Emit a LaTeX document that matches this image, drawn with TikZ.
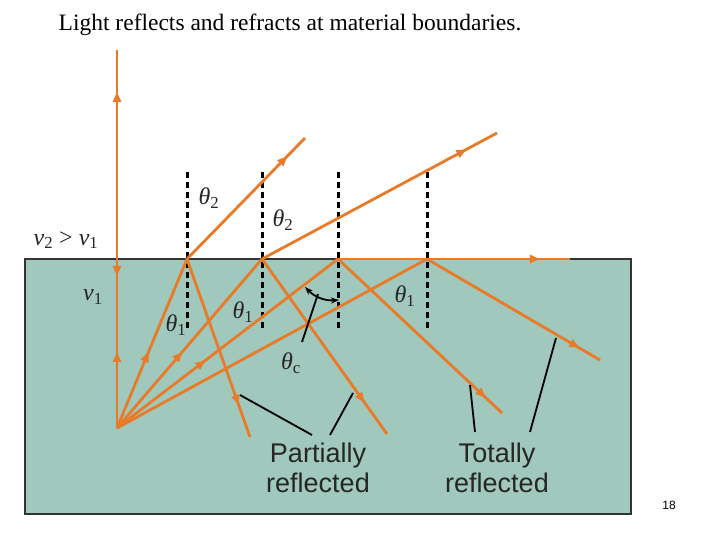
\documentclass[tikz,border=0pt]{standalone}
\usepackage{fontspec}
\setmainfont{Liberation Serif}
\newfontfamily\sff{Liberation Sans}
\usetikzlibrary{decorations.markings,arrows.meta}
\definecolor{ray}{RGB}{232,122,40}
\definecolor{water}{RGB}{160,200,188}
\newcommand{\sbx}[1]{\textsubscript{\upshape #1}}
\begin{document}
\begin{tikzpicture}[x=1pt,y=-1pt,
 r/.style={ray,line width=2.8pt},
 ra/.style={r,postaction={decorate},decoration={markings,mark=at position #1 with {\arrow{Triangle[length=10pt,width=8pt]}}}},
 nrm/.style={black,line width=3pt,dash pattern=on 6pt off 4pt},
 lbl/.style={inner sep=0pt,font=\fontsize{24}{24}\selectfont\itshape,text=black!85},
 call/.style={black,line width=1.8pt}]
\useasboundingbox (0,0) rectangle (720,540);
\fill[water] (25,259) rectangle (631,514);
\draw[black!80,line width=1.5pt] (25,259) rectangle (631,514);
\node[font=\fontsize{23.5}{24}\selectfont] (title) at (290,25) {Light reflects and refracts at material boundaries.};
\coordinate (S) at (117,428);
\coordinate (A) at (187,259); \coordinate (B) at (262,259);
\coordinate (C) at (338,259); \coordinate (D) at (427,259);
\coordinate (M) at (117,259);
\foreach \x in {187,262,338,427} \draw[nrm] (\x,172) -- (\x,330);
\coordinate (Top) at (117,50);
\draw[ra=0.45] (S) -- (M);
\draw[ra=0.8] (M) -- (Top);
\draw[ra=0.1] (M) -- (S);
\draw[ra=0.45] (S) -- (A);
\draw[ra=0.85] (A) -- (305,138);
\draw[ra=0.82] (A) -- (250,437);
\draw[ra=0.45] (S) -- (B);
\draw[ra=0.87] (B) -- (497,133);
\draw[ra=0.82] (B) -- (387,434);
\draw[ra=0.4] (S) -- (C);
\draw[ra=0.87] (C) -- (570,259);
\draw[ra=0.9] (C) -- (502,413);
\draw[r] (S) -- (D);
\draw[ra=0.88] (D) -- (600,360);
\draw[black,line width=1.8pt,{Stealth[length=8pt]}-{Stealth[length=8pt]}] (305,287) to[bend right=25] (339,300);
\draw[black,line width=1.8pt] (302,342) -- (318,294);
\node[lbl] (t2a) at (209,198) {θ\sbx{2}};
\node[lbl] (t2b) at (283,220) {θ\sbx{2}};
\node[lbl] (t1a) at (176,325) {θ\sbx{1}};
\node[lbl] (t1b) at (243,312) {θ\sbx{1}};
\node[lbl] (t1c) at (405,296) {θ\sbx{1}};
\node[lbl] (tc) at (291,363) {θ\sbx{c}};
\node[lbl] (v21) at (66,240) {v\sbx{2} {\upshape >} v\sbx{1}};
\node[lbl] (v1) at (93,297) {v\sbx{1}};
\draw[call] (240,395) -- (312,435);
\draw[call] (353,393) -- (330,435);
\draw[call] (470,385) -- (475,432);
\draw[call] (556,338) -- (530,432);
\node[font=\sff\fontsize{27}{30}\selectfont,align=center,text=black!85] (pr) at (318,468) {Partially\\reflected};
\node[font=\sff\fontsize{27}{30}\selectfont,align=center,text=black!85] (tr) at (497,468) {Totally\\reflected};
\node[font=\sff\fontsize{12}{12}\selectfont] (pg) at (669,505) {18};
\end{tikzpicture}
\end{document}
